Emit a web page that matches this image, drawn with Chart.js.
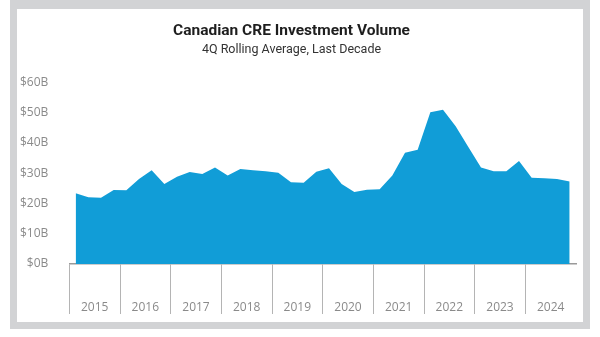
<!DOCTYPE html>
<html>
<head>
<meta charset="utf-8">
<script src="https://cdn.jsdelivr.net/npm/chart.js@4"></script>
<style>
  html, body { margin: 0; padding: 0; background: #fff; }
  #frame {
    position: absolute; left: 10px; top: 0; width: 566px; height: 313px;
    border-style: solid; border-color: #d2d3d5; border-width: 9px 7px 7px 7px;
    background: #fff;
  }
  #wrap { position: absolute; left: 0; top: 0; width: 600px; height: 337px; }
</style>
</head>
<body>
<div id="frame"></div>
<div id="wrap"><canvas id="areaCanvas" width="600" height="337"></canvas></div>
<script>
const years = ["2015", "2016", "2017", "2018", "2019", "2020", "2021", "2022", "2023", "2024"];

// quarterly 4Q rolling average, $ billions, Q1 2015 .. Q4 2024
const volume = [
  23.4, 22.1, 21.9, 24.5,
  24.4, 28.1, 31.0, 26.5,
  28.9, 30.4, 29.8, 31.9,
  29.3, 31.4, 31.0, 30.7,
  30.2, 27.0, 26.9, 30.5,
  31.7, 26.5, 23.8, 24.6,
  24.7, 29.3, 36.8, 37.8,
  50.2, 51.0, 45.6, 38.7,
  31.9, 30.7, 30.7, 34.1,
  28.5, 28.4, 28.1, 27.3
];

const yTicks = [0, 10, 20, 30, 40, 50, 60];

const points = volume.map((v, i) => ({ x: i + 0.5, y: v }));

const areaCanvas = document.getElementById("areaCanvas");

const areaChart = new Chart(areaCanvas, {
    type: "line",
    data: {
        datasets: [{
            data: points,
            xAxisID: "q",
            fill: "origin",
            backgroundColor: "#119dd7",
            borderWidth: 0,
            pointRadius: 0,
            tension: 0
        }]
    },
    options: {
        responsive: false,
        animation: false,
        layout: {
            padding: { left: 7, right: 24, top: 0, bottom: 21 }
        },
        plugins: {
            legend: { display: false },
            tooltip: { enabled: false },
            title: {
                display: true,
                text: "Canadian CRE Investment Volume",
                color: "#1e1e1e",
                font: { family: "Roboto, 'Liberation Sans', sans-serif", size: 15.5, weight: "bold", lineHeight: 1.2 },
                padding: { top: 22, bottom: 0 }
            },
            subtitle: {
                display: true,
                text: "4Q Rolling Average, Last Decade",
                color: "#333",
                font: { family: "Roboto, 'Liberation Sans', sans-serif", size: 12.5, lineHeight: 1.2 },
                padding: { top: 2, bottom: 25 }
            }
        },
        scales: {
            q: {
                type: "linear",
                axis: "x",
                display: false,
                min: 0,
                max: 40
            },
            x: {
                type: "category",
                labels: years,
                position: "bottom",
                offset: true,
                afterFit: (axis) => { axis.height = 52; },
                grid: {
                    offset: true,
                    drawOnChartArea: false,
                    tickLength: 50,
                    color: (ctx) => ctx.type === "tick" ? "#b4b4b4" : "rgba(0,0,0,0)",
                    lineWidth: 1
                },
                border: { display: true, color: "#9a9a9a", width: 1.5 },
                ticks: {
                    color: "#8a8a8a",
                    padding: -14,
                    font: { family: "'Open Sans', 'Liberation Sans', sans-serif", size: 12 }
                }
            },
            y: {
                min: 0,
                max: 60,
                afterBuildTicks: (axis) => { axis.ticks = yTicks.map(v => ({ value: v })); },
                grid: { display: false },
                border: { display: false },
                ticks: {
                    color: "#8a8a8a",
                    padding: 13,
                    font: { family: "'Open Sans', 'Liberation Sans', sans-serif", size: 12 },
                    callback: (v) => "$" + v + "B"
                }
            }
        }
    }
});
</script>
</body>
</html>
